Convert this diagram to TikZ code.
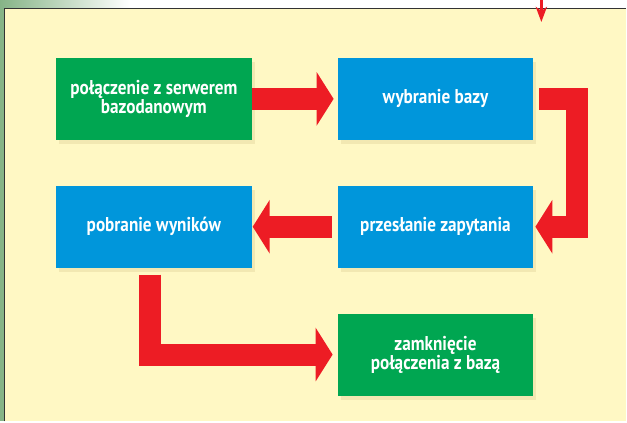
\documentclass[tikz,border=0pt]{standalone}
\usepackage{fontspec}
\setmainfont{PT Sans}[FakeStretch=0.86]
\usetikzlibrary{arrows.meta,positioning,shadows}
\definecolor{boxgreen}{HTML}{00A651}
\definecolor{boxblue}{HTML}{0096DB}
\definecolor{arrowred}{HTML}{ED1C24}
\definecolor{panelyellow}{HTML}{FFF8C4}
\definecolor{shadowtan}{HTML}{E6DAA2}
\definecolor{leafgreen}{HTML}{86B487}
\definecolor{framegray}{HTML}{333333}

\begin{document}
\begin{tikzpicture}[
  x=1pt, y=1pt,
  node distance=46pt and 86pt,
  stepbox/.style={minimum width=196pt, minimum height=82pt, inner sep=2pt, outer sep=0pt,
    align=center, text=white, font=\bfseries\fontsize{20}{17}\selectfont,
    drop shadow={shadow xshift=3pt, shadow yshift=-4pt, fill=shadowtan}},
  greenbox/.style={stepbox, fill=boxgreen},
  bluebox/.style={stepbox, fill=boxblue},
  bigarrow/.style={draw=arrowred, line width=22pt, line join=miter, -{Triangle[length=17pt,width=53pt]}}
]
% background and panel
\fill[white] (0,0) rectangle (627,422);
\shade[left color=leafgreen, right color=white] (0,413.5) rectangle (130,422);
\fill[leafgreen] (0,0) rectangle (4.5,414);
\fill[panelyellow] (4.5,0) rectangle (627,413.5);
\draw[line width=1.5pt, framegray] (4.5,0) -- (4.5,413.5) -- (627,413.5);
\useasboundingbox (0,0) rectangle (627,422);

% steps
\node[greenbox] (connect) at (154,323) {połączenie z serwerem\\bazodanowym};
\node[bluebox, right=of connect] (select) {wybranie bazy};
\node[bluebox, below=of select] (query) {przesłanie zapytania};
\node[bluebox, left=of query] (fetch) {pobranie wyników};
\node[greenbox, below=of query] (close) {zamknięcie\\połączenia z bazą};

% incoming arrow
\coordinate (feed) at (542,426);
\coordinate (feedend) at (542,400);
\draw[arrowred, line width=3pt, -{Stealth[length=15pt,width=11pt,inset=4pt]}] (feed) -- (feedend);

% flow
\draw[bigarrow, shorten >=4pt] (connect) -- (select);
\draw[bigarrow, shorten <=6pt, shorten >=2pt] (select.east) -- ++(43.5,0) |- (query.east);
\draw[bigarrow, shorten <=6pt, shorten >=1pt] (query) -- (fetch);
\draw[bigarrow, shorten <=7pt, shorten >=5pt] ([xshift=-3.5pt]fetch.south) |- (close.west);
\end{tikzpicture}
\end{document}
